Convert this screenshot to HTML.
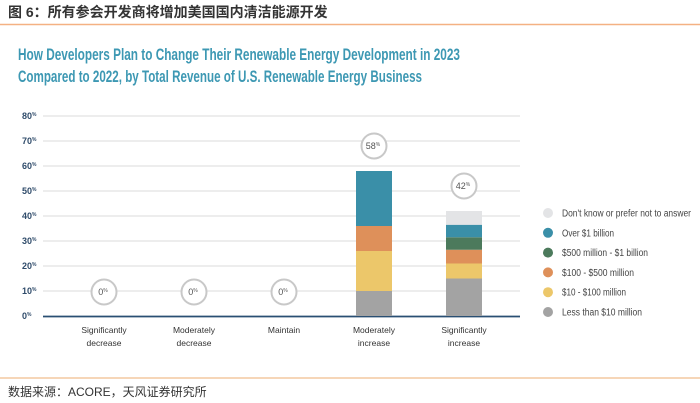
<!DOCTYPE html>
<html><head><meta charset="utf-8"><style>
html,body{margin:0;padding:0;background:#fff;width:700px;height:403px;overflow:hidden}
svg{display:block}
</style></head><body>
<svg id="chart" width="700" height="403" viewBox="0 0 700 403" xmlns="http://www.w3.org/2000/svg">
<text x="8" y="17" font-family="'Liberation Sans','Noto Sans CJK SC',sans-serif" font-size="14" font-weight="bold" fill="#333">图 6：所有参会开发商将增加美国国内清洁能源开发</text>
<line x1="0" y1="24.5" x2="700" y2="24.5" stroke="#f4b183" stroke-width="1.5"/>
<text x="18" y="60" textLength="442" lengthAdjust="spacingAndGlyphs" font-family="'Liberation Sans',sans-serif" font-size="17" font-weight="bold" fill="#3d98b3">How Developers Plan to Change Their Renewable Energy Development in 2023</text>
<text x="18" y="82" textLength="404" lengthAdjust="spacingAndGlyphs" font-family="'Liberation Sans',sans-serif" font-size="17" font-weight="bold" fill="#3d98b3">Compared to 2022, by Total Revenue of U.S. Renewable Energy Business</text>
<g id="grid"></g><g id="bars"></g><g id="legend"></g>
<line x1="0" y1="378" x2="700" y2="378" stroke="#f4c9a0" stroke-width="1.5"/>
<text x="8" y="396" font-family="'Liberation Sans','Noto Sans CJK SC',sans-serif" font-size="12" fill="#333">数据来源：ACORE，天风证券研究所</text>
</svg>
<script>
const categories=["Significantly|decrease","Moderately|decrease","Maintain","Moderately|increase","Significantly|increase"];
const totals=[0,0,0,58,42];
const seriesNames=["Less than  $10 million","$10 - $100 million","$100 - $500 million","$500 million - $1 billion","Over  $1 billion","Don't know or prefer not to answer"];
const seriesColors=["#a3a3a3","#ecc76a","#de905a","#4c7a5c","#3a8fa8","#e3e4e6"];
const lessThan10=[0,0,0,10,15];
const from10to100=[0,0,0,16,6];
const from100to500=[0,0,0,10,5.5];
const from500to1b=[0,0,0,0,5];
const over1b=[0,0,0,22,5];
const dontKnow=[0,0,0,0,5.5];
const yTicks=[0,10,20,30,40,50,60,70,80];
const series=[lessThan10,from10to100,from100to500,from500to1b,over1b,dontKnow];
const legendWidths=[80,64,72,86,52,129];
const NS="http://www.w3.org/2000/svg";
const y0=316,pxPer=2.5,x0=43,x1=520;
const yS=v=>y0-v*pxPer;
const xC=i=>104+i*90;
function mk(t,a,p){const e=document.createElementNS(NS,t);for(const k in a)e.setAttribute(k,a[k]);p.appendChild(e);return e;}
const grid=document.getElementById('grid'),bars=document.getElementById('bars'),leg=document.getElementById('legend');
const F="'Liberation Sans',sans-serif";
yTicks.forEach(v=>{
 if(v>0){const l=mk('line',{x1:x0,x2:x1,y1:yS(v),y2:yS(v),stroke:'#e2e2e2','stroke-width':1.2},grid);
 
 }
 const t=mk('text',{x:22,y:yS(v)+3,'font-family':F,'font-size':9,'font-weight':'bold',fill:'#2f4b6a'},grid);
 
 
 t.textContent=v;const s=mk('tspan',{'font-size':5,dy:-3},t);s.textContent='%';
});
const ax=mk('line',{x1:x0,x2:x1,y1:y0+0.5,y2:y0+0.5,stroke:'#2a4f73','stroke-width':1.8},grid);


categories.forEach((c,i)=>{
 let base=0;
 series.forEach((s,k)=>{const v=s[i];if(v>0){
  const r=mk('rect',{x:xC(i)-18,y:yS(base+v),width:36,height:v*pxPer,fill:seriesColors[k]},bars);
  
  
  base+=v;}});
 const cy=totals[i]>0?yS(totals[i])-25:292;
 const circ=mk('circle',{cx:xC(i),cy:cy,r:12.5,fill:'#fff',stroke:'#c8c8c8','stroke-width':2},bars);
 
 
 const t=mk('text',{x:xC(i)-1,y:cy+3,'text-anchor':'middle','font-family':F,'font-size':9,fill:'#555'},bars);
 
 
 t.textContent=totals[i];const s=mk('tspan',{'font-size':5,dy:-3},t);s.textContent='%';
 c.split('|').forEach((ln,j)=>{
  const tl=mk('text',{x:xC(i),y:333+j*13,'text-anchor':'middle','font-family':F,'font-size':8.5,fill:'#333'},bars);
  
  
  tl.textContent=ln;});
});
for(let k=seriesNames.length-1,j=0;k>=0;k--,j++){
 const cy=213+j*19.8;
 const d=mk('circle',{cx:548,cy:cy,r:5,fill:seriesColors[k]},leg);
 
 
 const t=mk('text',{x:562,y:cy+3.5,'font-family':F,'font-size':10,fill:'#444'},leg);
 
 
 t.textContent=seriesNames[k];
 t.setAttribute('textLength',legendWidths[k]);
 t.setAttribute('lengthAdjust','spacingAndGlyphs');
}
</script>
</body></html>
